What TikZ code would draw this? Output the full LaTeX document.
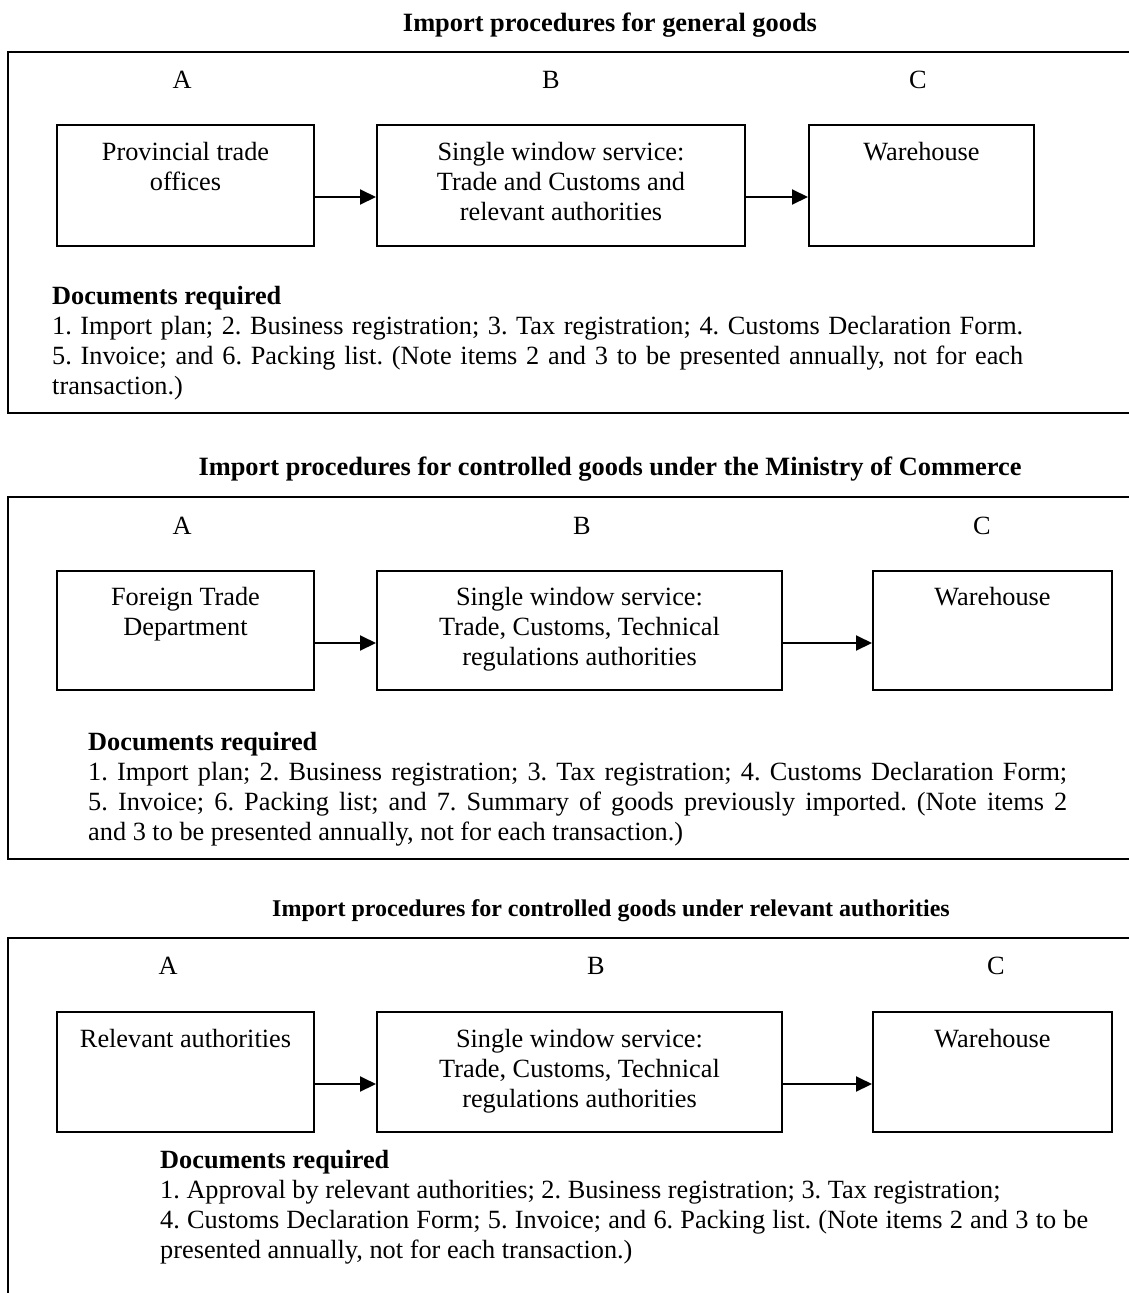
\documentclass[tikz,border=0pt]{standalone}
\usepackage{fontspec}
\setmainfont{Liberation Serif}
\usetikzlibrary{arrows.meta}
\begin{document}
\frenchspacing
\begin{tikzpicture}[x=1pt,y=-1pt,
  frame/.style={line width=2.4pt},
  stage/.style={draw, line width=2pt, inner sep=0pt},
  boxtext/.style={anchor=north, align=center, inner sep=0pt, font=\fontsize{26.3}{30}\selectfont\frenchspacing},
  lab/.style={inner sep=0pt, font=\fontsize{26.3}{30}\selectfont},
  ttl/.style={anchor=base, inner sep=0pt, font=\fontsize{26.4}{30}\selectfont\bfseries},
  docs/.style={anchor=north west, align=left, inner sep=0pt, font=\fontsize{26.3}{30}\selectfont\frenchspacing},
  arr/.style={line width=2pt, -{Triangle[length=16pt,width=15pt]}}
]
\useasboundingbox (0,0) rectangle (1129,1293);

% ---------- Section 1 ----------
\node[ttl] (t1) at (610,31) {Import procedures for general goods};
\draw[frame] (1129,52) -- (8,52) -- (8,413) -- (1129,413);
\node[lab] (la1) at (182,80) {A};
\node[lab] (lb1) at (551,80) {B};
\node[lab] (lc1) at (918,80) {C};
\node[stage, minimum width=257pt, minimum height=121pt] (a1) at (185.5,185.5) {};
\node[stage, minimum width=368pt, minimum height=121pt] (b1) at (561,185.5) {};
\node[stage, minimum width=225pt, minimum height=121pt] (c1) at (921.5,185.5) {};
\node[boxtext] (a1t) at ([yshift=-18pt]a1.north) {Provincial trade\\offices};
\node[boxtext] (b1t) at ([yshift=-18pt]b1.north) {Single window service:\\Trade and Customs and\\relevant authorities};
\node[boxtext] (c1t) at ([yshift=-18pt]c1.north) {Warehouse};
\draw[arr] ([yshift=-11.5pt]a1.east) -- ([yshift=-11.5pt]b1.west);
\draw[arr] ([yshift=-11.5pt]b1.east) -- ([yshift=-11.5pt]c1.west);
\node[docs] (d1) at (52,286) {\textbf{Documents required}\\
\makebox[971pt][s]{1. Import plan; 2. Business registration; 3. Tax registration; 4. Customs Declaration Form.}\\
\makebox[971pt][s]{5. Invoice; and 6. Packing list. (Note items 2 and 3 to be presented annually, not for each}\\
transaction.)};

% ---------- Section 2 ----------
\node[ttl] (t2) at (610,475) {Import procedures for controlled goods under the Ministry of Commerce};
\draw[frame] (1129,497) -- (8,497) -- (8,859) -- (1129,859);
\node[lab] (la2) at (182,526) {A};
\node[lab] (lb2) at (582,526) {B};
\node[lab] (lc2) at (982,526) {C};
\node[stage, minimum width=257pt, minimum height=119pt] (a2) at (185.5,630.5) {};
\node[stage, minimum width=405pt, minimum height=119pt] (b2) at (579.5,630.5) {};
\node[stage, minimum width=239pt, minimum height=119pt] (c2) at (992.5,630.5) {};
\node[boxtext] (a2t) at ([yshift=-17pt]a2.north) {Foreign Trade\\Department};
\node[boxtext] (b2t) at ([yshift=-17pt]b2.north) {Single window service:\\Trade, Customs, Technical\\regulations authorities};
\node[boxtext] (c2t) at ([yshift=-17pt]c2.north) {Warehouse};
\draw[arr] ([yshift=-12.5pt]a2.east) -- ([yshift=-12.5pt]b2.west);
\draw[arr] ([yshift=-12.5pt]b2.east) -- ([yshift=-12.5pt]c2.west);
\node[docs] (d2) at (88,732) {\textbf{Documents required}\\
\makebox[979pt][s]{1. Import plan; 2. Business registration; 3. Tax registration; 4. Customs Declaration Form;}\\
\makebox[979pt][s]{5. Invoice; 6. Packing list; and 7. Summary of goods previously imported. (Note items 2}\\
and 3 to be presented annually, not for each transaction.)};

% ---------- Section 3 ----------
\node[ttl, font=\fontsize{24}{28}\selectfont\bfseries] (t3) at (611,916) {Import procedures for controlled goods under relevant authorities};
\draw[frame] (1129,938) -- (8,938) -- (8,1293);
\node[lab] (la3) at (168,966) {A};
\node[lab] (lb3) at (596,966) {B};
\node[lab] (lc3) at (996,966) {C};
\node[stage, minimum width=257pt, minimum height=120pt] (a3) at (185.5,1072) {};
\node[stage, minimum width=405pt, minimum height=120pt] (b3) at (579.5,1072) {};
\node[stage, minimum width=239pt, minimum height=120pt] (c3) at (992.5,1072) {};
\node[boxtext] (a3t) at ([yshift=-18pt]a3.north) {Relevant authorities};
\node[boxtext] (b3t) at ([yshift=-18pt]b3.north) {Single window service:\\Trade, Customs, Technical\\regulations authorities};
\node[boxtext] (c3t) at ([yshift=-18pt]c3.north) {Warehouse};
\draw[arr] ([yshift=-12pt]a3.east) -- ([yshift=-12pt]b3.west);
\draw[arr] ([yshift=-12pt]b3.east) -- ([yshift=-12pt]c3.west);
\node[docs] (d3) at (160,1150) {\textbf{Documents required}\\
1. Approval by relevant authorities; 2. Business registration; 3. Tax registration;\\
\makebox[928pt][s]{4. Customs Declaration Form; 5. Invoice; and 6. Packing list. (Note items 2 and 3 to be}\\
presented annually, not for each transaction.)};
\end{tikzpicture}
\end{document}
